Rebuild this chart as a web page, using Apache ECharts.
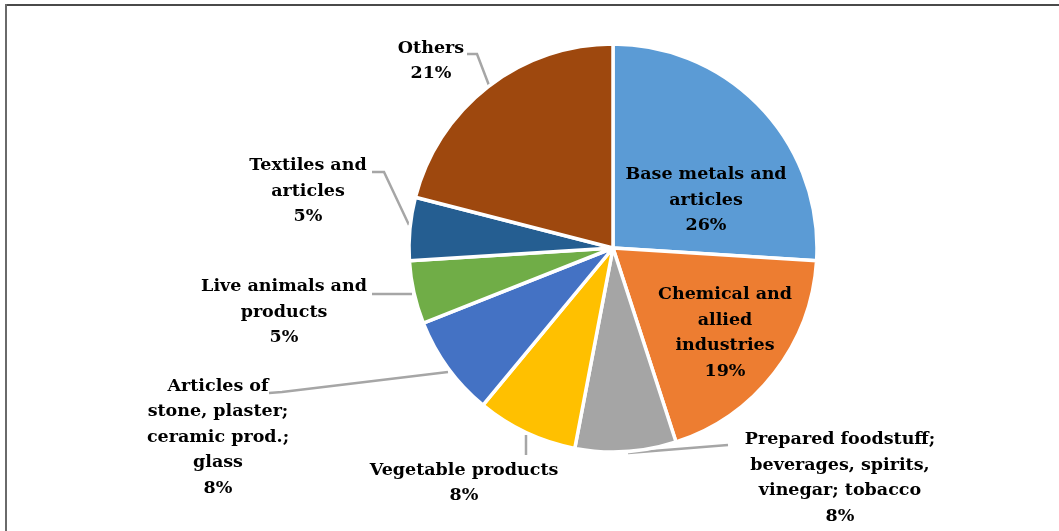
<!DOCTYPE html>
<html>
<head>
<meta charset="utf-8">
<script src="https://cdn.jsdelivr.net/npm/echarts@6/dist/echarts.min.js"></script>
<style>
  html, body { margin: 0; padding: 0; background: #fff; }
  #chart { width: 1059px; height: 531px; }
</style>
</head>
<body>
<div id="chart"></div>
<script>
// Export structure by product group (share of total, %)
const categories = [
  'Base metals and\narticles',
  'Chemical and\nallied\nindustries',
  'Prepared foodstuff;\nbeverages, spirits,\nvinegar; tobacco',
  'Vegetable products',
  'Articles of\nstone, plaster;\nceramic prod.;\nglass',
  'Live animals and\nproducts',
  'Textiles and\narticles',
  'Others'
];
const shares = [26, 19, 8, 8, 8, 5, 5, 21];
const colors = ['#5B9BD5', '#ED7D31', '#A5A5A5', '#FFC000', '#4472C4', '#70AD47', '#255E91', '#9E480E'];

// Label placement per slice: text block centre and leader-line path (null = inside label)
const labelSpots = [
  { x: 706, y: 200, line: null },
  { x: 725, y: 333, line: null },
  { x: 840, y: 478, line: [[628, 453], [728, 445], [728, 445]] },
  { x: 464, y: 483, line: [[526, 435], [526, 455], [526, 455]] },
  { x: 218, y: 437, line: [[448, 372], [282, 392], [269, 393]] },
  { x: 284, y: 312, line: [[412, 294], [385, 294], [372, 294]] },
  { x: 308, y: 191, line: [[409, 225], [384, 172], [372, 172]] },
  { x: 431, y: 61, line: [[490, 88], [477, 54], [467, 54]] }
];

const chart = echarts.init(document.getElementById('chart'));
chart.setOption({
  animation: false,
  backgroundColor: '#ffffff',
  // frame: top and left edges
  graphic: [
    {
      type: 'line',
      shape: { x1: 5, y1: 5, x2: 1059, y2: 5 },
      style: { stroke: '#4a4a4a', lineWidth: 2 },
      silent: true
    },
    {
      type: 'line',
      shape: { x1: 6, y1: 4, x2: 6, y2: 531 },
      style: { stroke: '#6a6a6a', lineWidth: 2 },
      silent: true
    }
  ],
  series: [{
    type: 'pie',
    center: [613, 248],
    radius: 204,
    startAngle: 90,
    clockwise: true,
    itemStyle: { borderColor: '#ffffff', borderWidth: 3.5 },
    label: {
      show: true,
      formatter: '{b}\n{c}%',
      fontFamily: 'DejaVu Serif',
      fontWeight: 'bold',
      fontSize: 17.5,
      lineHeight: 25.5,
      color: '#000000',
      align: 'center'
    },
    labelLine: {
      show: true,
      lineStyle: { color: '#A6A6A6', width: 2.5 }
    },
    labelLayout: function (params) {
      const spot = labelSpots[params.dataIndex];
      const out = { x: spot.x, y: spot.y, align: 'center', verticalAlign: 'middle' };
      if (spot.line) out.labelLinePoints = spot.line;
      return out;
    },
    data: categories.map((name, i) => ({
      name: name,
      value: shares[i],
      itemStyle: { color: colors[i] },
      labelLine: { show: !!labelSpots[i].line }
    }))
  }]
});
</script>
</body>
</html>
